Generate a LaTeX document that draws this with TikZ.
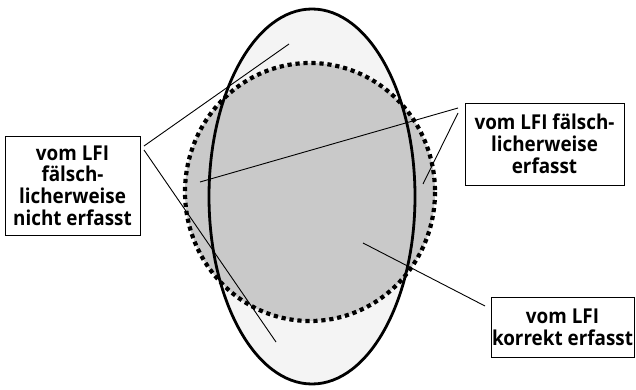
\documentclass[tikz,border=0pt]{standalone}
\usepackage{fontspec}
\setmainfont{Open Sans}[FakeStretch=0.92]
\begin{document}
\begin{tikzpicture}[x=1pt,y=-1pt,
  labelbox/.style={draw=black, line width=0.9pt, fill=white, align=center,
    font=\fontsize{20.5}{21.8}\selectfont\bfseries, inner sep=0pt},
  pointer/.style={draw=black, line width=0.9pt}]
\useasboundingbox (0,0) rectangle (636,390);
% ellipse and circle
\fill[gray!9] (312,196.5) ellipse [x radius=103, y radius=187.5];
\fill[gray!42] (310,192) ellipse [x radius=125, y radius=129];
\draw[line width=4.2pt, dash pattern=on 4.2pt off 3.8pt, black] (310,192) ellipse [x radius=125, y radius=129];
\draw[line width=2.8pt] (312,196.5) ellipse [x radius=103, y radius=187.5];
% boxes
\node[labelbox, minimum width=135pt, minimum height=99pt] (lbox) at (72.5,185.5)
  {vom LFI\\fälsch-\\licherweise\\nicht erfasst};
\node[labelbox, minimum width=159pt, minimum height=82pt] (rbox) at (544.5,144)
  {vom LFI fälsch-\\licherweise\\erfasst};
\node[labelbox, minimum width=143pt, minimum height=60pt] (bbox) at (562.5,327)
  {vom LFI\\korrekt erfasst};
% pointer anchor coordinates
\coordinate (l1) at (144,146);
\coordinate (l2) at (144,150);
\coordinate (lt) at (289,44);
\coordinate (lb) at (276,342);
\coordinate (r1) at (458,108);
\coordinate (r2) at (458,113);
\coordinate (rl) at (200,182);
\coordinate (rr) at (423,184);
\coordinate (b1) at (485,306);
\coordinate (bc) at (363,243);
\draw[pointer] (l1) -- (lt);
\draw[pointer] (l2) -- (lb);
\draw[pointer] (r1) -- (rl);
\draw[pointer] (r2) -- (rr);
\draw[pointer] (b1) -- (bc);
\end{tikzpicture}
\end{document}
